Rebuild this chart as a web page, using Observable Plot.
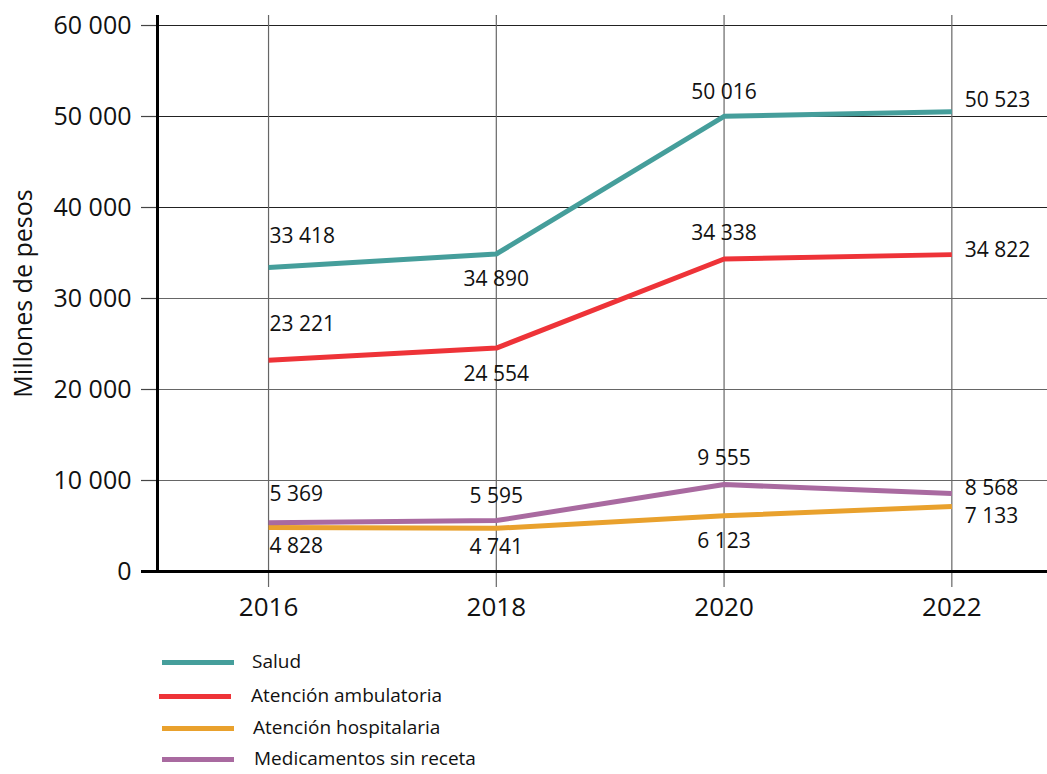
<!DOCTYPE html>
<html><head><meta charset="utf-8">
<script src="https://cdn.jsdelivr.net/npm/d3@7"></script>
<script src="https://cdn.jsdelivr.net/npm/@observablehq/plot@0.6"></script>
<style>
body{margin:0;background:#fff;font-family:"Open Sans",sans-serif;}
#wrap{position:relative;width:1047px;height:774px;overflow:hidden;}
#wrap svg{position:absolute;left:0;top:0;}
.sw{position:absolute;height:5px;width:72px;}
.lt{position:absolute;font-size:19px;line-height:16px;color:#111;white-space:nowrap;}
</style></head><body><div id="wrap"></div>
<script>
const years = [2016, 2018, 2020, 2022];
const seriesNames = ["Salud", "Atención ambulatoria", "Atención hospitalaria", "Medicamentos sin receta"];
const salud = [33418, 34890, 50016, 50523];
const ambulatoria = [23221, 24554, 34338, 34822];
const hospitalaria = [4828, 4741, 6123, 7133];
const medicamentos = [5369, 5595, 9555, 8568];
const yTicks = [0, 10000, 20000, 30000, 40000, 50000, 60000];
const yTitle = "Millones de pesos";

// styling / layout (not data)
const colors = ["#459E9B", "#EE3338", "#E9A12D", "#A96AA0"];
const labelDy = [[-31, 25, -24, -11], [-36, 26, -26, -4], [19, 19, 25, 10], [-28, -24, -26, -5]];
const xDomain = [2015.025, 2022.84];
const yDomain = [0, 61100];

const values = [salud, ambulatoria, hospitalaria, medicamentos];
const rows = [];
values.forEach((arr, i) => arr.forEach((v, j) => rows.push({series: seriesNames[i], si: i, yi: j, year: years[j], value: v})));

const loc = d3.formatLocale({decimal: ",", thousands: "\u00a0", grouping: [3], currency: ["", ""]});
const fmt = loc.format(",d");

const lineMarks = [0, 1, 2, 3].map(i => Plot.line(rows.filter(r => r.si === i), {x: "year", y: "value", stroke: colors[i], strokeWidth: 5, strokeLinejoin: "miter", strokeLinecap: "butt"}));

const textMarks = rows.map(r => {
  const first = r.yi === 0, last = r.yi === years.length - 1;
  return Plot.text([r], {
    x: "year", y: "value", text: d => fmt(d.value),
    textAnchor: first || last ? "start" : "middle",
    dx: first ? 1 : last ? 13 : 0,
    dy: labelDy[r.si][r.yi],
    fontSize: 21, fill: "#111"
  });
});

const plot = Plot.plot({
  width: 1047, height: 625,
  marginLeft: 157, marginRight: 0, marginTop: 15, marginBottom: 54,
  style: {fontFamily: "'Open Sans', sans-serif", background: "white", color: "#111"},
  x: {domain: xDomain},
  y: {domain: yDomain},
  marks: [
    Plot.gridY(yTicks.filter(t => t > 0 && t < 40000), {stroke: "#666", strokeOpacity: 1, strokeWidth: 1.2}),
    Plot.gridY(yTicks.filter(t => t >= 40000), {stroke: "#222", strokeOpacity: 1, strokeWidth: 1.2}),
    Plot.gridX(years, {stroke: "#666", strokeOpacity: 1, strokeWidth: 1.2}),
    Plot.axisY(yTicks, {tickSize: 16, tickPadding: 10, tickFormat: fmt, fontSize: 25, stroke: "#444", strokeWidth: 1.2, label: null}),
    Plot.axisX(years, {tickSize: 16, tickPadding: 10, tickFormat: d => String(d), fontSize: 26, stroke: "#666", strokeWidth: 1.2, label: null}),
    Plot.axisY([0], {tickSize: 16, tickFormat: () => "", stroke: "black", strokeWidth: 3, label: null}),
    Plot.ruleY([0], {stroke: "black", strokeWidth: 3}),
    Plot.ruleX([xDomain[0]], {stroke: "black", strokeWidth: 3}),
    Plot.text([yTitle], {frameAnchor: "left", textAnchor: "middle", rotate: -90, dx: -134, fontSize: 25, fill: "#111"}),
    ...lineMarks,
    ...textMarks
  ]
});
const wrap = document.getElementById("wrap");
wrap.appendChild(plot);

// legend
const legendRows = [{y: 662, sx: 162, tx: 252}, {y: 696, sx: 159, tx: 251}, {y: 728, sx: 162, tx: 253}, {y: 759, sx: 162, tx: 254}];
seriesNames.forEach((name, i) => {
  const L = legendRows[i];
  const sw = document.createElement("div");
  sw.className = "sw";
  sw.style.left = L.sx + "px"; sw.style.top = (L.y - 2.5) + "px"; sw.style.background = colors[i];
  const t = document.createElement("div");
  t.className = "lt";
  t.style.left = L.tx + "px"; t.style.top = (L.y - 9) + "px";
  t.textContent = name;
  wrap.appendChild(sw); wrap.appendChild(t);
});
</script></body></html>
